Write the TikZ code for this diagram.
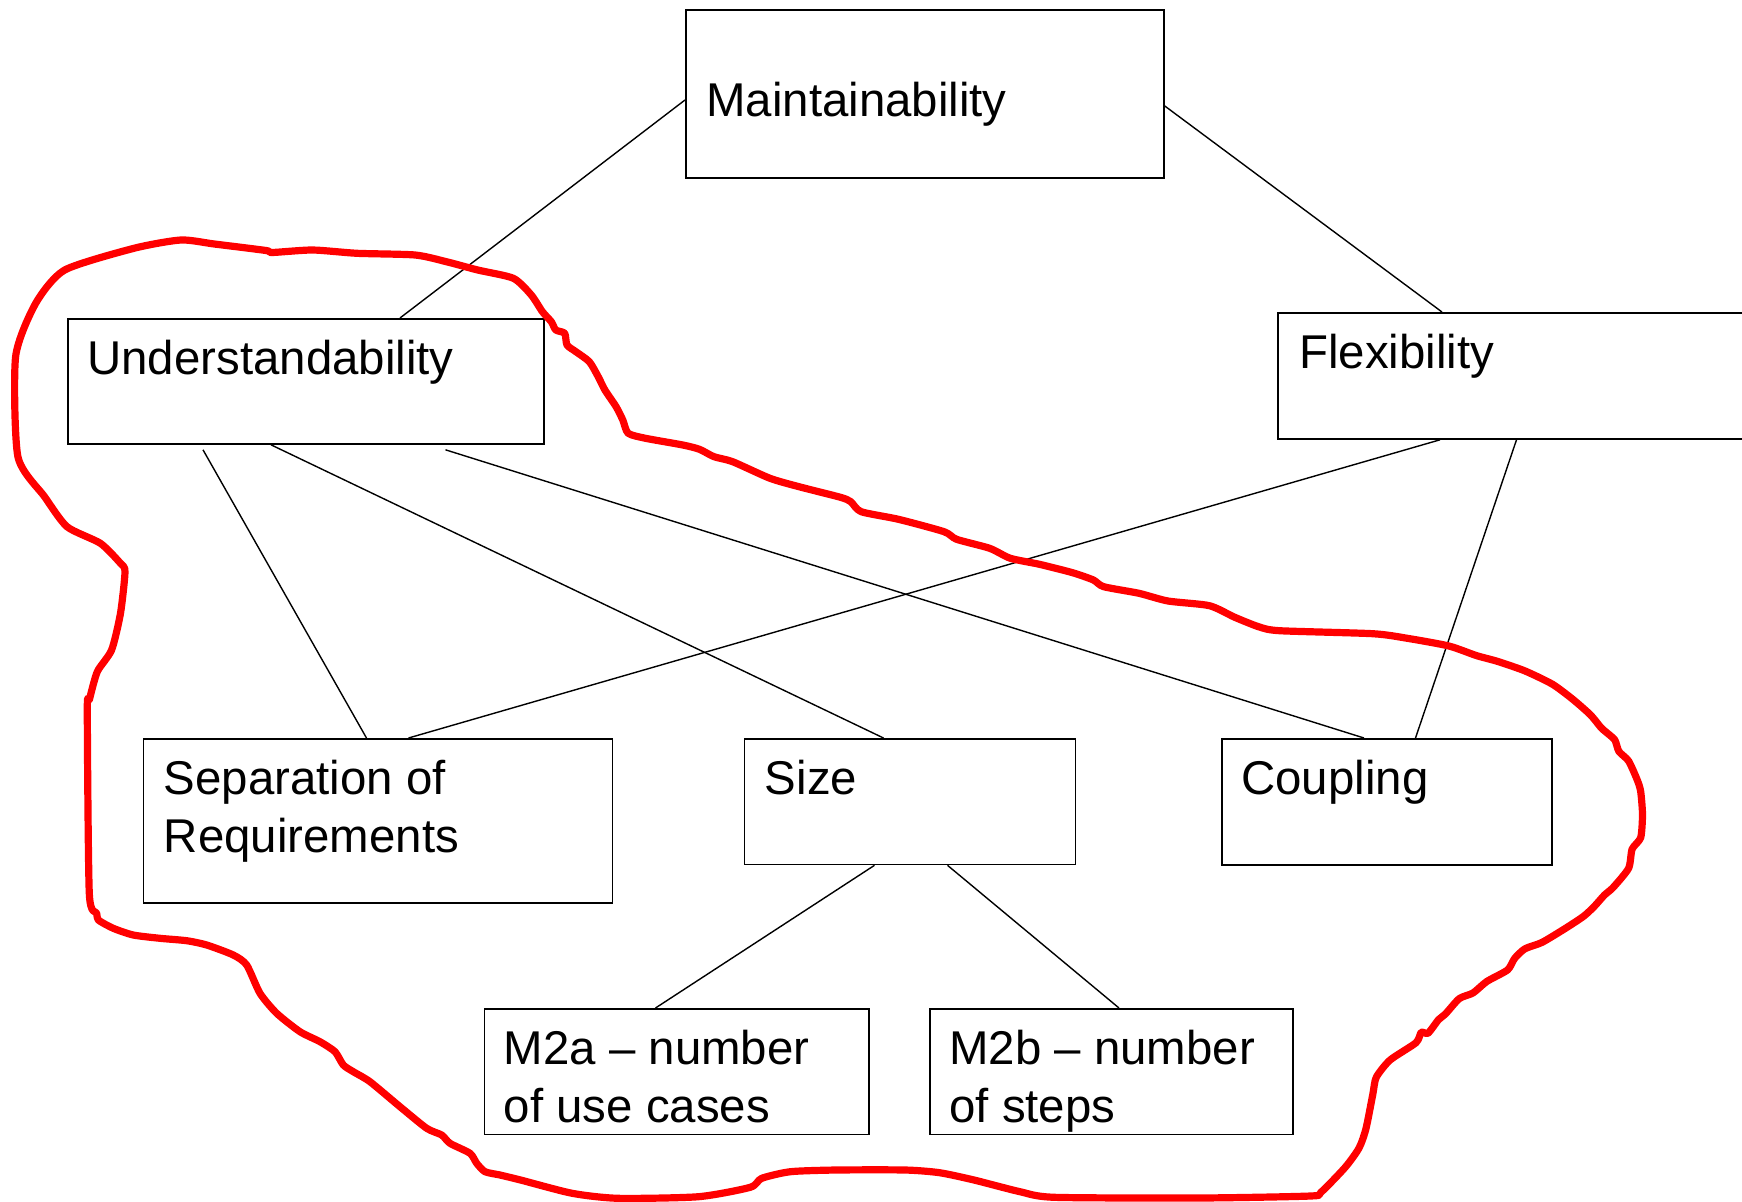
\documentclass[tikz,border=0pt]{standalone}
\usepackage{fontspec}
\setmainfont{Liberation Sans}
\usetikzlibrary{positioning, calc}

\begin{document}
\begin{tikzpicture}[
    x=0.5pt, y=-0.5pt,
    box/.style={
        rectangle,
        draw=black,
        line width=0.9pt,
        anchor=north west,
        inner sep=0pt
    },
    lbl/.style={
        anchor=base west,
        inner sep=0pt,
        align=left,
        font=\fontsize{23.7pt}{29pt}\selectfont
    },
    link/.style={
        draw=black,
        line width=0.7pt
    },
    outline/.style={
        draw=red,
        line width=3.6pt,
        line join=round
    }
]
\useasboundingbox (0,0) rectangle (1742,1201);
\clip (0,0) rectangle (1742,1201);

% boxes
\node[box, minimum width=239pt, minimum height=84pt] (maint) at (685,9) {};
\node[box, minimum width=238pt, minimum height=62.5pt] (und) at (67,318) {};
\node[box, minimum width=260pt, minimum height=63pt] (flex) at (1277,312) {};
\node[box, minimum width=234.5pt, minimum height=82pt] (sep) at (142.5,738) {};
\node[box, minimum width=165.5pt, minimum height=62.75pt] (size) at (743.5,738) {};
\node[box, minimum width=165pt, minimum height=63pt] (coup) at (1221,738) {};
\node[box, minimum width=192.25pt, minimum height=62.75pt] (m2a) at (483.5,1008) {};
\node[box, minimum width=181.5pt, minimum height=62.75pt] (m2b) at (929,1008) {};

% texts (base is the last line)
\node[lbl] (maint-txt) at ($(maint.north west)+(21,107.5)$) {Maintainability};
\node[lbl] (und-txt) at ($(und.north west)+(20,56)$) {Understandability};
\node[lbl] (flex-txt) at ($(flex.north west)+(22,56.5)$) {Flexibility};
\node[lbl] (sep-txt) at ($(sep.north west)+(21,114.5)$) {Separation of\\Requirements};
\node[lbl] (size-txt) at ($(size.north west)+(21,56.5)$) {Size};
\node[lbl] (coup-txt) at ($(coup.north west)+(20,56.5)$) {Coupling};
\node[lbl] (m2a-txt) at ($(m2a.north west)+(20,114)$) {M2a -- number\\of use cases};
\node[lbl] (m2b-txt) at ($(m2b.north west)+(20,114)$) {M2b -- number\\of steps};

% links
\draw[link] ($(maint.north west)+(0,91)$) -- ($(und.north west)+(333,0)$);
\draw[link] ($(maint.north east)+(0,97)$) -- ($(flex.north west)+(165,0)$);
\draw[link] ($(und.south west)+(136,5)$) -- ($(sep.north west)+(224,0)$);
\draw[link] ($(und.south west)+(204,0)$) -- ($(size.north west)+(140,0)$);
\draw[link] ($(und.south west)+(378.5,5)$) -- ($(coup.north west)+(143,0)$);
\draw[link] ($(flex.south west)+(163,0)$) -- ($(sep.north west)+(266,0)$);
\draw[link] ($(flex.south west)+(239.5,0)$) -- ($(coup.north west)+(194.5,0)$);
\draw[link] ($(size.south west)+(131,0)$) -- ($(m2a.north west)+(172,0)$);
\draw[link] ($(size.south west)+(204,0)$) -- ($(m2b.north west)+(190,0)$);

% red outline
\draw[outline] plot[smooth cycle, tension=0.4] coordinates {
    (64.7,270) (133.9,248.3) (180.8,240) (214.3,244) (266,250.5) (272,252.5)
    (312.5,250) (357.1,253.3) (415.2,255) (446.4,261.7) (477.7,270) (513.4,278.3)
    (531.3,295) (542.4,311.7) (551.3,321.7) (555.8,330) (564.7,333.3) (567,345)
    (575.9,351.7) (589.3,361.7) (598.2,376.7) (604.9,390) (616.1,406.7) (622.8,420)
    (628.2,433.3) (645.6,438.3) (682.9,445) (699.5,449.3) (714,456.7) (732.7,461.7)
    (770,478.3) (799,486.7) (840.5,497.3) (850.8,501.7) (861.2,511.7) (898.5,519.3)
    (944.1,531.7) (956.6,539.3) (989.7,548.3) (1010.4,558.3) (1039.5,564.3)
    (1072.6,572.7) (1093.4,580) (1103.7,586.7) (1139,593.3) (1168,601)
    (1209.5,605.7) (1234.6,617.2) (1258.8,626.8) (1279.5,630.7) (1372.8,633.7)
    (1407.4,638.3) (1448.9,646) (1476.5,655.6) (1497.3,661.3) (1524.9,670.9)
    (1552.6,684.3) (1573.3,699.7) (1590.6,715) (1601,727.6) (1606.2,732.2)
    (1614.8,739.9) (1618.9,751.4) (1628.6,761) (1637.3,780.1) (1640.7,791.6)
    (1642.5,814.6) (1640.7,837.6) (1632.1,849.1) (1628.6,868.3) (1613.1,887.5)
    (1604.4,895.1) (1594.1,906.6) (1583.7,916.2) (1566.4,927.7) (1542.2,942.3)
    (1524.9,948.8) (1514.6,958.4) (1507.6,969.9) (1486.9,981.4) (1473.1,992.9)
    (1459.3,998.6) (1445.4,1014) (1438.5,1019.7) (1428.1,1033.1) (1421.2,1032.3)
    (1416,1042.7) (1390.1,1060) (1376.3,1077.2) (1372.8,1094.4) (1365.9,1128.9)
    (1359,1148.1) (1345.2,1167.3) (1321,1192.2) (1310.6,1196) (1200,1198)
    (1054.4,1197.3) (1020,1191.7) (974,1180) (939.6,1172.7) (905.2,1170)
    (836.3,1170) (790.4,1171.7) (761.7,1178.3) (750.2,1187.3) (698.5,1196.7)
    (618.1,1198.3) (572.2,1193.3) (520.6,1180) (500,1175) (485,1171.7)
    (476.7,1163.3) (470,1153.3) (450,1143.3) (441.7,1135) (426.7,1128.3)
    (400,1106.7) (370,1081.7) (353.3,1071.7) (343.3,1065) (335,1051.7)
    (320,1041.7) (300,1031.7) (276.7,1013.3) (260,993.3) (246.7,965)
    (233.3,955) (206.7,945) (186.7,940.7) (160,938.3) (133.3,935) (113.3,928.3)
    (98.3,920) (96.7,913.3) (89.3,893.3) (87.3,710) (89.3,700) (97.3,671.7)
    (111.6,650) (120.5,613.3) (125,571.7) (120.5,563.3) (100.4,543.3) (67,526.7)
    (44.6,496.7) (17.9,456.7) (15.6,356.7) (35.7,303.3)
};
\end{tikzpicture}
\end{document}
